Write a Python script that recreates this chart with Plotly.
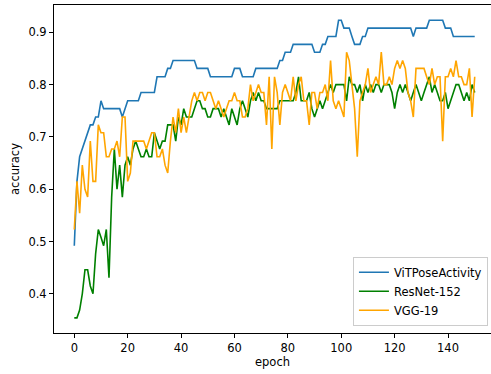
import plotly.graph_objects as go

epochs = list(range(151))

vitpose = [
    0.492, 0.615, 0.662, 0.677, 0.692, 0.708, 0.723, 0.723, 0.738, 0.738,
    0.769, 0.754, 0.754, 0.754, 0.754, 0.754, 0.754, 0.754, 0.738, 0.754,
    0.769, 0.769, 0.769, 0.769, 0.769, 0.785, 0.785, 0.785, 0.785, 0.785,
    0.785, 0.815, 0.815, 0.815, 0.815, 0.831, 0.831, 0.846, 0.846, 0.846,
    0.846, 0.846, 0.846, 0.846, 0.846, 0.846, 0.831, 0.831, 0.831, 0.831,
    0.831, 0.815, 0.815, 0.815, 0.815, 0.815, 0.815, 0.815, 0.815, 0.815,
    0.831, 0.831, 0.831, 0.815, 0.815, 0.815, 0.815, 0.815, 0.831, 0.831,
    0.831, 0.831, 0.831, 0.831, 0.831, 0.831, 0.831, 0.846, 0.846, 0.862,
    0.862, 0.862, 0.877, 0.877, 0.877, 0.877, 0.877, 0.877, 0.877, 0.877,
    0.862, 0.862, 0.862, 0.877, 0.877, 0.892, 0.892, 0.892, 0.892, 0.923,
    0.923, 0.908, 0.908, 0.908, 0.892, 0.877, 0.877, 0.877, 0.892, 0.892,
    0.908, 0.908, 0.908, 0.908, 0.908, 0.908, 0.908, 0.908, 0.908, 0.908,
    0.908, 0.908, 0.908, 0.908, 0.908, 0.908, 0.908, 0.892, 0.908, 0.908,
    0.908, 0.908, 0.908, 0.923, 0.923, 0.923, 0.923, 0.923, 0.923, 0.908,
    0.908, 0.908, 0.892, 0.892, 0.892, 0.892, 0.892, 0.892, 0.892, 0.892,
    0.892,
]

resnet152 = [
    0.354, 0.354, 0.369, 0.400, 0.446, 0.446, 0.415, 0.400, 0.477, 0.523,
    0.508, 0.492, 0.523, 0.431, 0.585, 0.677, 0.600, 0.646, 0.585, 0.646,
    0.662, 0.646, 0.677, 0.692, 0.677, 0.662, 0.662, 0.677, 0.662, 0.662,
    0.708, 0.692, 0.677, 0.692, 0.692, 0.723, 0.723, 0.723, 0.692, 0.738,
    0.723, 0.754, 0.738, 0.738, 0.738, 0.754, 0.769, 0.769, 0.754, 0.754,
    0.738, 0.738, 0.754, 0.754, 0.754, 0.738, 0.754, 0.738, 0.723, 0.754,
    0.738, 0.723, 0.754, 0.769, 0.754, 0.738, 0.769, 0.785, 0.769, 0.785,
    0.769, 0.769, 0.754, 0.754, 0.754, 0.754, 0.754, 0.769, 0.769, 0.769,
    0.769, 0.769, 0.769, 0.785, 0.815, 0.769, 0.769, 0.769, 0.785, 0.754,
    0.738, 0.754, 0.769, 0.754, 0.769, 0.785, 0.800, 0.785, 0.800, 0.800,
    0.800, 0.800, 0.769, 0.815, 0.800, 0.800, 0.785, 0.800, 0.769, 0.800,
    0.785, 0.800, 0.785, 0.800, 0.800, 0.785, 0.800, 0.800, 0.800, 0.785,
    0.754, 0.785, 0.800, 0.785, 0.800, 0.785, 0.769, 0.785, 0.800, 0.785,
    0.769, 0.785, 0.800, 0.815, 0.785, 0.800, 0.785, 0.769, 0.769, 0.785,
    0.754, 0.769, 0.785, 0.800, 0.800, 0.785, 0.769, 0.785, 0.769, 0.800,
    0.785,
]

vgg19 = [
    0.523, 0.615, 0.554, 0.646, 0.600, 0.585, 0.692, 0.615, 0.615, 0.723,
    0.708, 0.708, 0.662, 0.662, 0.677, 0.677, 0.692, 0.662, 0.738, 0.738,
    0.615, 0.631, 0.692, 0.692, 0.692, 0.692, 0.692, 0.677, 0.692, 0.708,
    0.708, 0.662, 0.662, 0.677, 0.646, 0.631, 0.692, 0.738, 0.708, 0.754,
    0.708, 0.738, 0.708, 0.738, 0.769, 0.785, 0.769, 0.785, 0.785, 0.769,
    0.785, 0.785, 0.769, 0.754, 0.769, 0.754, 0.738, 0.754, 0.769, 0.769,
    0.785, 0.769, 0.769, 0.738, 0.738, 0.754, 0.800, 0.769, 0.785, 0.800,
    0.785, 0.785, 0.723, 0.815, 0.677, 0.815, 0.785, 0.723, 0.785, 0.800,
    0.785, 0.769, 0.815, 0.769, 0.800, 0.815, 0.769, 0.769, 0.723, 0.785,
    0.785, 0.754, 0.785, 0.785, 0.800, 0.769, 0.846, 0.769, 0.754, 0.769,
    0.754, 0.738, 0.862, 0.846, 0.800, 0.754, 0.662, 0.769, 0.785, 0.800,
    0.831, 0.785, 0.800, 0.815, 0.800, 0.862, 0.800, 0.800, 0.815, 0.800,
    0.831, 0.846, 0.831, 0.846, 0.831, 0.785, 0.769, 0.738, 0.831, 0.831,
    0.831, 0.831, 0.815, 0.800, 0.831, 0.800, 0.815, 0.815, 0.692, 0.815,
    0.815, 0.831, 0.815, 0.846, 0.815, 0.815, 0.800, 0.800, 0.831, 0.738,
    0.815,
]

series_names = ["ViTPoseActivity", "ResNet-152", "VGG-19"]
series_colors = ["#1f77b4", "green", "orange"]

x_ticks = [0, 20, 40, 60, 80, 100, 120, 140]
y_ticks = [0.4, 0.5, 0.6, 0.7, 0.8, 0.9]

font_family = "DejaVu Sans, Arial, sans-serif"

fig = go.Figure()
for name, ys, color in zip(series_names, [vitpose, resnet152, vgg19], series_colors):
    fig.add_trace(go.Scatter(
        x=epochs, y=ys, mode="lines", name=name,
        line=dict(color=color, width=1.6),
    ))

fig.update_layout(
    width=491, height=374,
    margin=dict(l=54, r=0, t=5, b=41),
    paper_bgcolor="white", plot_bgcolor="white",
    font=dict(family=font_family, size=11.5, color="black"),
    showlegend=True,
    legend=dict(
        x=0.993, y=0.022, xanchor="right", yanchor="bottom",
        bgcolor="rgba(255,255,255,0.8)", bordercolor="#cccccc", borderwidth=1,
        font=dict(family=font_family, size=11.5, color="black"),
        tracegroupgap=0, itemwidth=30,
    ),
    xaxis=dict(
        range=[-7.6, 156.1], tickvals=x_ticks, ticktext=[str(t) for t in x_ticks],
        showgrid=False, zeroline=False, showline=True, linecolor="black", linewidth=1,
        mirror=True, ticks="outside", ticklen=4, tickwidth=1, tickcolor="black",
        title=dict(text="epoch", standoff=4, font=dict(size=11.5)),
    ),
    yaxis=dict(
        range=[0.3251, 0.9522], tickvals=y_ticks, ticktext=[f"{t:.1f}" for t in y_ticks],
        showgrid=False, zeroline=False, showline=True, linecolor="black", linewidth=1,
        ticks="outside", ticklen=4, tickwidth=1, tickcolor="black",
        title=dict(text="accuracy", standoff=6, font=dict(size=11.5)),
    ),
)

fig.write_html(
    "out.html",
    config={"displayModeBar": False},
    post_script="document.body.style.margin='0';document.body.style.padding='0';",
)
